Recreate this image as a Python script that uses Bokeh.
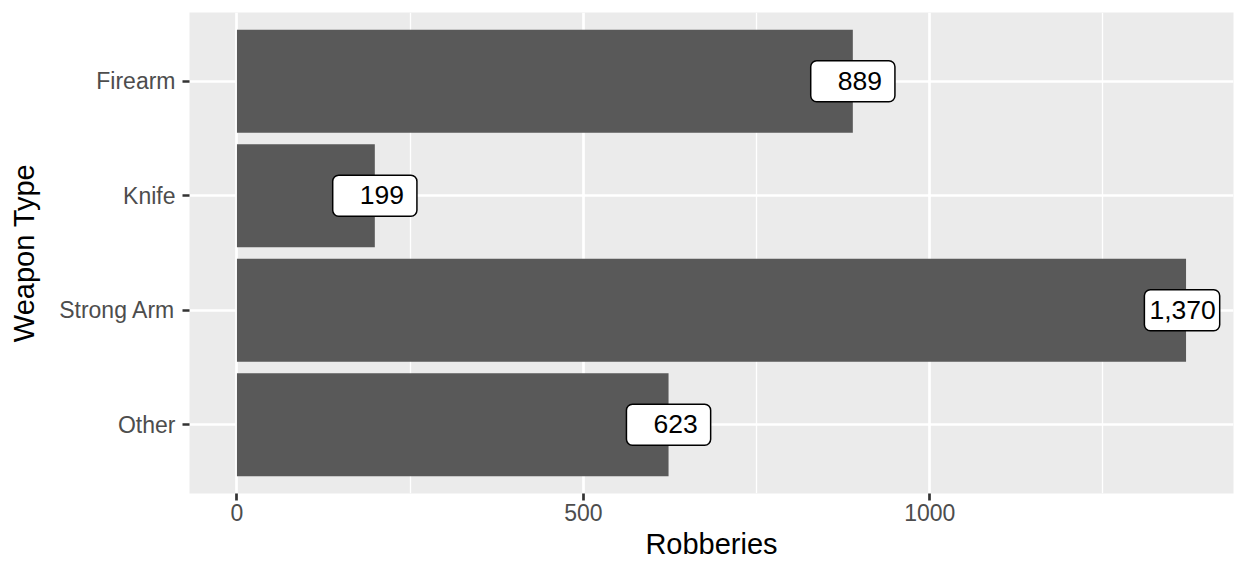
from bokeh.plotting import figure
from bokeh.models import ColumnDataSource, FactorRange, Range1d, FixedTicker
from bokeh.core.properties import value
from bokeh.embed import file_html
from bokeh.resources import INLINE

# Data
categories = ["Firearm", "Knife", "Strong Arm", "Other"]
robberies = [889, 199, 1370, 623]
x_ticks = [0, 500, 1000]
x_minor = [250, 750, 1250]

labels = [f"{v:,}" for v in robberies]

src = ColumnDataSource(data=dict(cat=categories, val=robberies))

FONT = "Liberation Sans"
xmax = max(robberies)
pad = xmax * 0.05

p = figure(
    width=1236, height=562,
    y_range=FactorRange(factors=list(reversed(categories)), range_padding=0.05),
    x_range=Range1d(-pad, xmax + pad),
    output_backend="svg", toolbar_location=None,
    min_border_left=189, min_border_top=12, min_border_right=3, min_border_bottom=69,
)
p.background_fill_color = "#EBEBEB"
p.border_fill_color = "white"
p.outline_line_color = None

p.hbar(y="cat", right="val", left=0, height=0.9, source=src,
       fill_color="#595959", line_color=None)

# Grids
p.xgrid.ticker = FixedTicker(ticks=x_ticks, minor_ticks=x_minor)
p.xgrid.grid_line_color = "white"
p.xgrid.grid_line_width = 2.7
p.xgrid.minor_grid_line_color = "white"
p.xgrid.minor_grid_line_width = 1.3
p.ygrid.grid_line_color = "white"
p.ygrid.grid_line_width = 2.7

# Axes
p.xaxis.ticker = FixedTicker(ticks=x_ticks, minor_ticks=x_minor)
for ax in (p.xaxis[0], p.yaxis[0]):
    ax.axis_line_color = None
    ax.major_tick_line_color = "#333333"
    ax.major_tick_line_width = 2.7
    ax.major_tick_out = 7
    ax.major_tick_in = 0
    ax.minor_tick_line_color = None
    ax.major_label_text_font = FONT
    ax.major_label_text_font_size = "23px"
    ax.major_label_text_color = "#4D4D4D"
    ax.axis_label_text_font = FONT
    ax.axis_label_text_font_size = "29px"
    ax.axis_label_text_font_style = "normal"
    ax.axis_label_text_color = "black"

p.xaxis.axis_label = "Robberies"
p.yaxis.axis_label = "Weapon Type"
p.xaxis.major_label_standoff = 3
p.xaxis.axis_label_standoff = 4
p.yaxis.major_label_standoff = 7
p.yaxis.axis_label_standoff = 16

# Value labels
for c, v, t in zip(categories, robberies, labels):
    if len(t) > 3:
        lp, rp, xo = 5, 4, -4
    else:
        lp, rp, xo = 27, 13, 0
    one = ColumnDataSource(data=dict(cat=[c], val=[v], txt=[t]))
    p.text(
        x="val", y="cat", text="txt", source=one, x_offset=xo,
        text_align="center", text_baseline="middle",
        text_font=value(FONT), text_font_size="26.5px", text_color="black",
        background_fill_color="white", border_line_color="black",
        border_line_width=1.5,
        padding=dict(left=lp, right=rp, top=11, bottom=12),
        border_radius=6,
    )

open("out.html", "w").write(file_html(p, INLINE))
